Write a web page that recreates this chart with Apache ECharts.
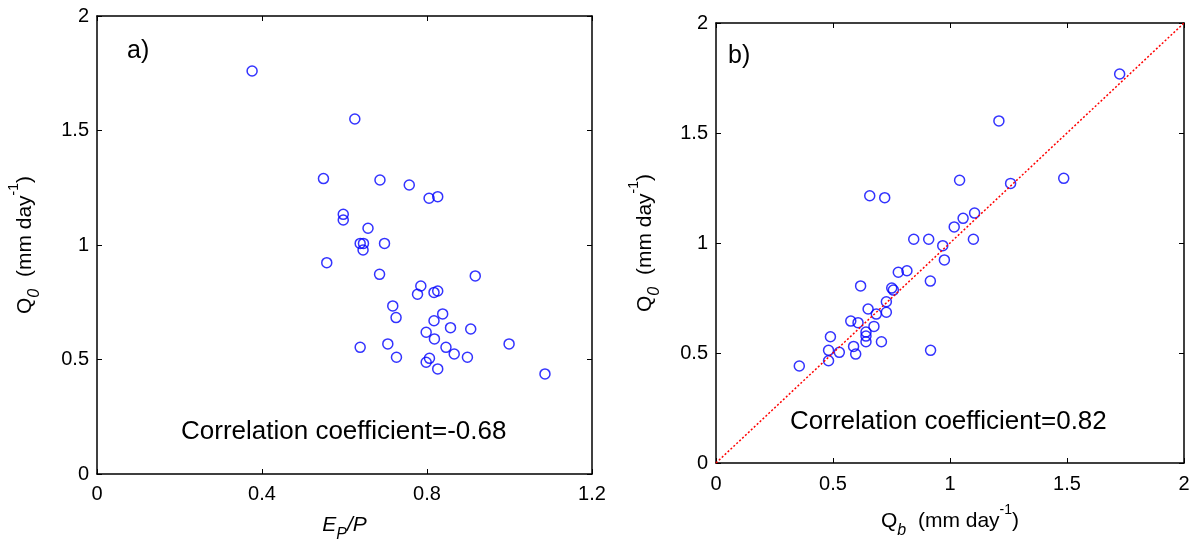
<!DOCTYPE html>
<html>
<head>
<meta charset="utf-8">
<script src="https://cdn.jsdelivr.net/npm/echarts@6/dist/echarts.min.js"></script>
<style>html,body{margin:0;padding:0;background:#fff}#c{width:1194px;height:541px}</style>
</head>
<body>
<div id="c"></div>
<script>
// Panel a: E_P/P vs Q0
var epP = [0.376,0.625,0.549,0.686,0.757,0.805,0.826,0.597,0.597,0.657,
           0.638,0.646,0.645,0.697,0.557,0.685,0.917,0.785,0.777,0.817,
           0.826,0.717,0.725,0.838,0.817,0.857,0.906,0.798,0.818,0.638,
           0.705,0.846,0.999,0.726,0.866,0.898,0.806,0.798,0.826,1.086];
var q0A  = [1.76,1.55,1.29,1.284,1.262,1.204,1.211,1.134,1.109,1.073,
           1.007,1.007,0.978,1.007,0.923,0.872,0.865,0.821,0.785,0.793,
           0.799,0.734,0.683,0.699,0.669,0.639,0.633,0.619,0.590,0.553,
           0.568,0.553,0.568,0.510,0.524,0.510,0.505,0.488,0.459,0.437];
// Panel b: Qb vs Q0
var qb   = [1.725,1.209,1.041,1.259,1.486,0.657,0.721,1.105,1.056,1.018,
           0.845,0.909,1.100,0.969,0.976,0.779,0.816,0.916,0.618,0.751,
           0.758,0.728,0.650,0.728,0.685,0.576,0.607,0.675,0.641,0.641,
           0.641,0.707,0.489,0.588,0.481,0.527,0.917,0.597,0.481,0.356];
var q0B  = [1.768,1.555,1.285,1.271,1.294,1.215,1.206,1.136,1.112,1.073,
           1.017,1.017,1.017,0.988,0.923,0.867,0.874,0.827,0.805,0.795,
           0.786,0.733,0.700,0.685,0.677,0.645,0.638,0.621,0.595,0.577,
           0.551,0.551,0.574,0.530,0.512,0.503,0.512,0.495,0.465,0.441];
var oneToOne = [[0,0],[2,2]];
var xTicksA = ['0','0.4','0.8','1.2'];
var yTicks  = ['0','0.5','1','1.5','2'];
var xTicksB = ['0','0.5','1','1.5','2'];
var corrA = 'Correlation coefficient=-0.68';
var corrB = 'Correlation coefficient=0.82';

var FONT = "'Liberation Sans', Arial, Helvetica, sans-serif";
function pairs(xs, ys){ return xs.map(function(x,i){return [x, ys[i]];}); }
function fmt(v){ return String(+v.toFixed(2)); }

var lineStyle = {color:'#000', width:1.5};
function axis(opts){
  var base = {
    type:'value', min:opts.min, max:opts.max, interval:opts.interval,
    gridIndex:opts.grid, position:opts.position,
    axisLine:{show:true, onZero:false, lineStyle:lineStyle},
    axisTick:{show:true, inside:true, length:5, lineStyle:{color:'#000', width:1}},
    splitLine:{show:false},
    axisLabel:{show:!!opts.labels, color:'#000', fontSize:20, fontFamily:FONT, margin:opts.margin||10,
      formatter:function(v){ var s=fmt(v); return (opts.labels && opts.labels.indexOf(s)>=0)? s : ''; }}
  };
  if (opts.name){
    base.name = opts.name; base.nameLocation='middle'; base.nameGap=opts.nameGap;
    base.nameRotate = opts.nameRotate||0;
    base.nameTextStyle = {color:'#000', fontSize:21, fontFamily:FONT, rich:{
      t:{fontSize:21, fontFamily:FONT, color:'#000'},
      i:{fontSize:21, fontFamily:FONT, color:'#000', fontStyle:'italic'},
      sub:{fontSize:16, fontFamily:FONT, color:'#000', fontStyle:'italic', verticalAlign:'bottom', lineHeight:36},
      sup:{fontSize:14, fontFamily:FONT, color:'#000', verticalAlign:'top', lineHeight:36}
    }};
  }
  return base;
}

var chart = echarts.init(document.getElementById('c'), null, {renderer:'canvas'});
var circle = {color:'transparent', borderColor:'#0000ff', borderWidth:1.5};
chart.setOption({
  animation:false,
  backgroundColor:'#fff',
  grid:[
    {left:97, top:16, width:495, height:458, outerBoundsMode:'none', containLabel:false},
    {left:716, top:23, width:468, height:440, outerBoundsMode:'none', containLabel:false}
  ],
  xAxis:[
    axis({grid:0, position:'bottom', min:0, max:1.2, interval:0.4, labels:xTicksA, margin:10,
          name:'{i|E}{sub|P}{i|/P}', nameGap:33}),
    axis({grid:0, position:'top', min:0, max:1.2, interval:0.4}),
    axis({grid:1, position:'bottom', min:0, max:2, interval:0.5, labels:xTicksB, margin:11,
          name:'{t|Q}{sub|b}{t|  (mm day}{sup|-1}{t|)}', nameGap:40}),
    axis({grid:1, position:'top', min:0, max:2, interval:0.5})
  ],
  yAxis:[
    axis({grid:0, position:'left', min:0, max:2, interval:0.5, labels:yTicks, margin:8,
          name:'{t|Q}{sub|0}{t|  (mm day}{sup|-1}{t|)}', nameGap:54, nameRotate:90}),
    axis({grid:0, position:'right', min:0, max:2, interval:0.5}),
    axis({grid:1, position:'left', min:0, max:2, interval:0.5, labels:yTicks, margin:8,
          name:'{t|Q}{sub|0}{t|  (mm day}{sup|-1}{t|)}', nameGap:53, nameRotate:90}),
    axis({grid:1, position:'right', min:0, max:2, interval:0.5})
  ],
  title:[
    {text:'a)', left:122, top:34, textStyle:{fontSize:25, fontWeight:'normal', fontFamily:FONT, color:'#000'}},
    {text:'b)', left:723, top:39, textStyle:{fontSize:25, fontWeight:'normal', fontFamily:FONT, color:'#000'}},
    {text:corrA, left:176, top:414, textStyle:{fontSize:26, fontWeight:'normal', fontFamily:FONT, color:'#000'}},
    {text:corrB, left:785, top:404, textStyle:{fontSize:26, fontWeight:'normal', fontFamily:FONT, color:'#000'}}
  ],
  series:[
    {type:'scatter', xAxisIndex:0, yAxisIndex:0, data:pairs(epP,q0A), symbol:'circle', symbolSize:10, itemStyle:circle},
    {type:'line', xAxisIndex:2, yAxisIndex:2, data:oneToOne, symbol:'none',
     lineStyle:{color:'#ff0000', width:1.5, type:[2,2]}},
    {type:'scatter', xAxisIndex:2, yAxisIndex:2, data:pairs(qb,q0B), symbol:'circle', symbolSize:10, itemStyle:circle}
  ]
});
</script>
</body>
</html>
